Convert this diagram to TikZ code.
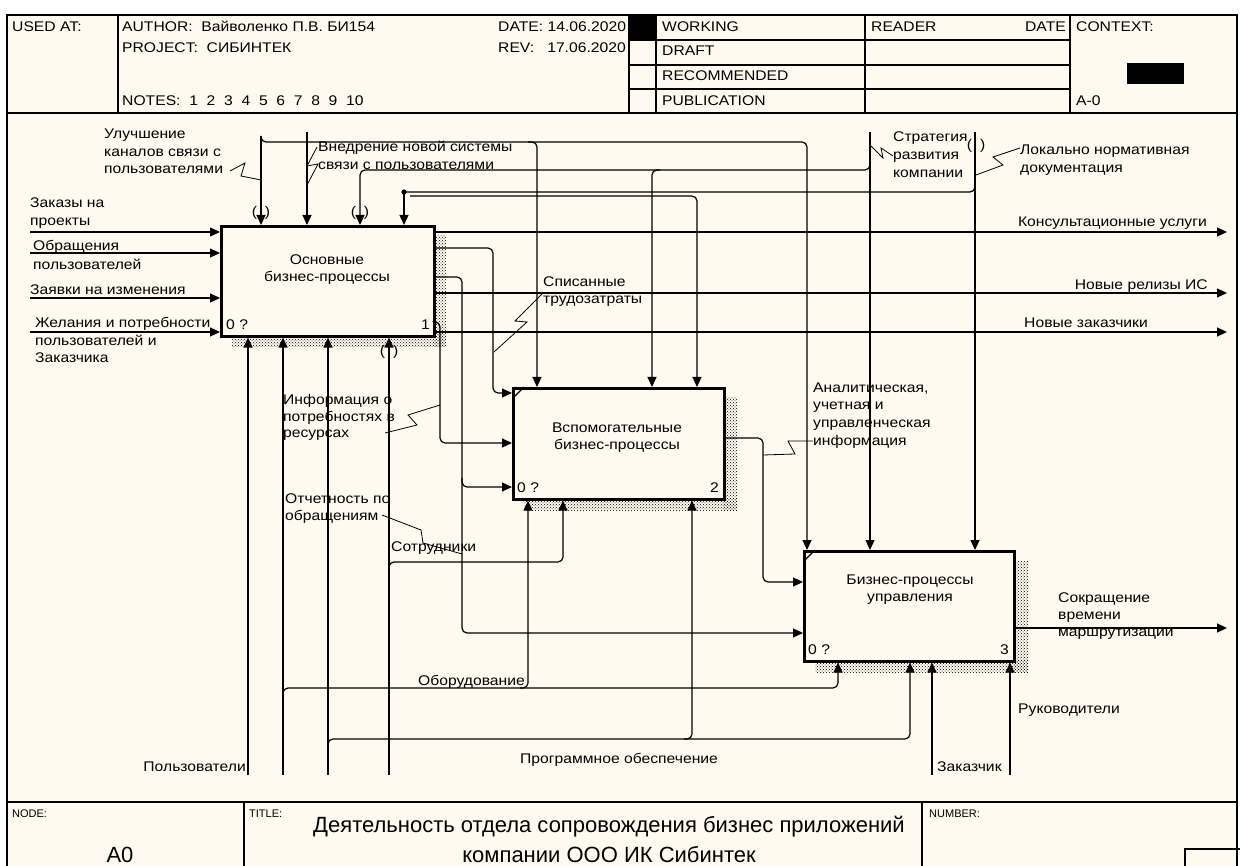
\documentclass[tikz,border=0pt]{standalone}
\usepackage{fontspec}
\setmainfont{Liberation Sans}[FakeStretch=1.12]
\newfontfamily\titlefont{Liberation Sans}
\usetikzlibrary{arrows.meta,patterns}
\definecolor{bg}{RGB}{255,250,240}
\newcommand\fs{\fontsize{14}{17}\selectfont}
\newcommand\fsmall{\titlefont\fontsize{11}{13}\selectfont}
\newcommand\fbig{\titlefont\fontsize{22}{26}\selectfont}
\newcommand\mylab[4]{\node[txt] (#1) at (#2,#3) {#4};}
\newcommand\mylabr[4]{\node[txtr] (#1) at (#2,#3) {#4};}
\tikzset{
  ln/.style={line width=1.2pt, rounded corners=5pt},
  arr/.style={ln, -{Triangle[length=10pt,width=9pt]}},
  sq/.style={line width=0.8pt},
  txt/.style={inner sep=0pt, font=\fs, anchor=base west},
  txtr/.style={inner sep=0pt, font=\fs, anchor=base east},
  box/.style={draw, line width=2.6pt, fill=bg, anchor=north west, inner sep=0pt},
  shad/.style={fill=black!35, pattern=crosshatch dots, pattern color=black},
  frm/.style={line width=1.6pt},
  tun/.style={inner sep=0pt, font=\fs},
}
\begin{document}
\begin{tikzpicture}[x=1pt,y=-1pt]
\useasboundingbox (0,0) rectangle (1240,866);
\clip (0,0) rectangle (1240,866);
\fill[white] (0,0) rectangle (1240,866);
\fill[bg] (7,15) rectangle (1237,870);

% ---------- frame and header ----------
\draw[frm] (7,870) -- (7,15) -- (1237,15) -- (1237,870);
\draw[frm] (7,113) -- (1237,113);
\draw[frm] (118,15) -- (118,113);
\draw[frm] (629,15) -- (629,113);
\draw[frm] (656,15) -- (656,113);
\draw[frm] (865,15) -- (865,113);
\draw[frm] (1070,15) -- (1070,113);
\draw[frm] (629,40) -- (1070,40);
\draw[frm] (629,65) -- (1070,65);
\draw[frm] (629,89) -- (1070,89);
\fill (629,15) rectangle (656,40);
\fill (1127,63) rectangle (1184,84);

\mylab{h1}{12}{32}{USED AT:}
\mylab{h2}{122}{32}{AUTHOR:\ \ Вайволенко П.В. БИ154}
\mylab{h3}{122}{53}{PROJECT:\ \ СИБИНТЕК}
\mylab{h4}{122}{106}{NOTES:\ \ 1\ \ 2\ \ 3\ \ 4\ \ 5\ \ 6\ \ 7\ \ 8\ \ 9\ \ 10}
\mylab{h5}{498}{32}{DATE: 14.06.2020}
\mylab{h6}{498}{53}{REV:\ \ \ 17.06.2020}
\mylab{h7}{662}{32}{WORKING}
\mylab{h8}{662}{56}{DRAFT}
\mylab{h9}{662}{81}{RECOMMENDED}
\mylab{h10}{662}{106}{PUBLICATION}
\mylab{h11}{871}{32}{READER}
\mylabr{h12}{1066}{32}{DATE}
\mylab{h13}{1076}{32}{CONTEXT:}
\mylab{h14}{1076}{106}{A-0}

% ---------- footer ----------
\draw[frm] (7,802) -- (1237,802);
\draw[frm] (244,802) -- (244,870);
\draw[frm] (922,802) -- (922,870);
\draw[frm] (1185,849) rectangle (1250,880);
\node[inner sep=0pt, font=\fsmall, anchor=base west] (f1) at (12,817) {NODE:};
\node[inner sep=0pt, font=\fsmall, anchor=base west] (f2) at (249,817) {TITLE:};
\node[inner sep=0pt, font=\fsmall, anchor=base west] (f3) at (929,817) {NUMBER:};
\node[inner sep=0pt, font=\fbig, anchor=base] (f4) at (120,862) {A0};
\node[inner sep=0pt, font=\fbig, anchor=base] (f5) at (609,832) {Деятельность отдела сопровождения бизнес приложений};
\node[inner sep=0pt, font=\fbig, anchor=base] (f6) at (609,862) {компании ООО ИК Сибинтек};

% ---------- shadows ----------
\fill[shad] (433,236) rectangle (446,347);
\fill[shad] (232,335) rectangle (446,347);
\fill[shad] (723,398) rectangle (737,510);
\fill[shad] (524,498) rectangle (737,510);
\fill[shad] (1013,561) rectangle (1028,672);
\fill[shad] (815,660) rectangle (1028,672);

% ---------- boxes ----------
\node[box, minimum width=213pt, minimum height=110pt] (b1) at (220,225) {};
\node[box, minimum width=211pt, minimum height=111pt] (b2) at (512,387) {};
\node[box, minimum width=210pt, minimum height=110pt] (b3) at (803,550) {};
\draw[line width=1.2pt] (513,398) -- (524,387);
\draw[line width=1.2pt] (804,561) -- (815,550);

\node[font=\fs, align=center, inner sep=0pt] (b1t) at (327,270) {Основные\\бизнес-процессы};
\node[font=\fs, align=center, inner sep=0pt] (b2t) at (617,438) {Вспомогательные\\бизнес-процессы};
\node[font=\fs, align=center, inner sep=0pt] (b3t) at (910,590) {Бизнес-процессы\\управления};
\mylab{n1a}{226}{330}{0 ?}
\mylabr{n1b}{430}{330}{1}
\mylab{n2a}{517}{492}{0 ?}
\mylabr{n2b}{719}{492}{2}
\mylab{n3a}{808}{654}{0 ?}
\mylabr{n3b}{1009}{654}{3}

% ---------- inputs ----------
\coordinate (in1) at (30,232);
\coordinate (in2) at (30,253);
\coordinate (in3) at (30,298);
\coordinate (in4) at (30,332);
\draw[arr] (in1) -- (in1 -| b1.west);
\draw[arr] (in2) -- (in2 -| b1.west);
\draw[arr] (in3) -- (in3 -| b1.west);
\draw[arr] (in4) -- (in4 -| b1.west);

% ---------- outputs ----------
\coordinate (o1) at (1227,232);
\coordinate (o2) at (1227,293);
\coordinate (o3) at (1227,332);
\coordinate (o4) at (1227,628);
\draw[arr] (b1.east |- o1) -- (o1);
\draw[arr] (b1.east |- o2) -- (o2);
\draw[arr] (b1.east |- o3) -- (o3);
\draw[arr] (b3.east |- o4) -- (o4);
\draw[arr] (b1.east |- 0,248) -- (493,248) -- (493,393) -- (b2.west |- 0,393);
\draw[arr] (b1.east |- 0,277) -- (462,277) -- (462,633) -- (b3.west |- 0,633);
\draw[arr] (462,478) -- (462,487) -- (b2.west |- 0,487);
\draw[arr] (b1.east |- 0,322) -- (440,322) -- (440,443) -- (b2.west |- 0,443);
\draw[arr] (b2.east |- 0,438) -- (763,438) -- (763,582) -- (b3.west |- 0,582);

% ---------- controls ----------
\coordinate (t1) at (261,136);
\coordinate (t2) at (307,132);
\coordinate (t3) at (870,132);
\coordinate (t4) at (975,132);
\draw[arr] (t1) -- (261,142) -- (807,142) -- (807,0 |- b3.north);
\draw[arr] (t1) -- (t1 |- b1.north);
\draw[arr] (528,142) -- (537,142) -- (537,0 |- b2.north);
\draw[arr] (t2) -- (t2 |- b1.north);
\draw[arr] (t3) -- (t3 |- b3.north);
\draw[arr] (870,161) -- (870,170) -- (360,170) -- (360,0 |- b1.north);
\draw[arr] (660,170) -- (652,170) -- (652,0 |- b2.north);
\draw[arr] (t4) -- (t4 |- b3.north);
\draw[ln] (975,183) -- (975,192) -- (404,192);
\draw[arr] (404,192) -- (404,0 |- b1.north);
\fill (404,192) circle (2.6);
\draw[arr] (410,196) -- (697,196) -- (697,0 |- b2.north);

% ---------- mechanisms ----------
\coordinate (m1) at (248,775);
\coordinate (m2) at (283,775);
\coordinate (m3) at (328,775);
\coordinate (m4) at (389,775);
\coordinate (m5) at (932,775);
\coordinate (m6) at (1010,775);
\draw[arr] (m1) -- (m1 |- b1.south);
\draw[arr] (m2) -- (m2 |- b1.south);
\draw[arr] (m3) -- (m3 |- b1.south);
\draw[arr] (m4) -- (m4 |- b1.south);
\draw[arr] (m5) -- (m5 |- b3.south);
\draw[arr] (m6) -- (m6 |- b3.south);
\draw[arr] (283,695) -- (283,688) -- (838,688) -- (838,0 |- b3.south);
\draw[arr] (520,688) -- (528,688) -- (528,0 |- b2.south);
\draw[arr] (328,746) -- (328,739) -- (910,739) -- (910,0 |- b3.south);
\draw[arr] (684,739) -- (692,739) -- (692,0 |- b2.south);
\draw[arr] (389,569) -- (389,562) -- (563,562) -- (563,0 |- b2.south);

% ---------- tunnels ----------
\node[tun] (p1) at (261,213) {(\hspace{8pt})};
\node[tun] (p2) at (360,213) {(\hspace{8pt})};
\node[tun] (p3) at (389,352) {(\hspace{8pt})};
\node[tun] (p4) at (976,146) {(\hspace{8pt})};

% ---------- squiggles ----------
\draw[sq] (230,171) -- (245,163) -- (241,176) -- (261,180);
\draw[sq] (317,147) -- (307,166) -- (318,164) -- (307,185);
\draw[sq] (871,146) -- (883,158) -- (881,148) -- (893,156);
\draw[sq] (1020,148) -- (993,157) -- (1003,165) -- (976,175);
\draw[sq] (543,293) -- (515,321) -- (527,322) -- (494,352);
\draw[sq] (385,433) -- (417,425) -- (408,415) -- (440,405);
\draw[sq] (382,515) -- (421,530) -- (423,543) -- (462,554);
\draw[sq] (813,441) -- (788,441) -- (795,454) -- (763,455);

% ---------- labels ----------
\mylab{l1a}{104}{139}{Улучшение}
\mylab{l1b}{104}{157}{каналов связи с}
\mylab{l1c}{104}{174}{пользователями}
\mylab{l2a}{318}{152}{Внедрение новой системы}
\mylab{l2b}{318}{170}{связи с пользователями}
\mylab{l3a}{893}{142}{Стратегия}
\mylab{l3b}{893}{160}{развития}
\mylab{l3c}{893}{178}{компании}
\mylab{l4a}{1020}{155}{Локально нормативная}
\mylab{l4b}{1020}{173}{документация}
\mylab{l5a}{30}{208}{Заказы на}
\mylab{l5b}{30}{226}{проекты}
\mylab{l6a}{33}{251}{Обращения}
\mylab{l6b}{33}{270}{пользователей}
\mylab{l7}{30}{295}{Заявки на изменения}
\mylab{l8a}{35}{328}{Желания и потребности}
\mylab{l8b}{35}{346}{пользователей и}
\mylab{l8c}{35}{363}{Заказчика}
\mylabr{l9}{1207}{227}{Консультационные услуги}
\mylabr{l10}{1208}{290}{Новые релизы ИС}
\mylabr{l11}{1148}{328}{Новые заказчики}
\mylab{l12a}{543}{287}{Списанные}
\mylab{l12b}{543}{304}{трудозатраты}
\mylab{l13a}{283}{405}{Информация о}
\mylab{l13b}{283}{422}{потребностях в}
\mylab{l13c}{283}{438}{ресурсах}
\mylab{l14a}{813}{393}{Аналитическая,}
\mylab{l14b}{813}{410}{учетная и}
\mylab{l14c}{813}{428}{управленческая}
\mylab{l14d}{813}{446}{информация}
\mylab{l15a}{285}{503}{Отчетность по}
\mylab{l15b}{285}{520}{обращениям}
\mylab{l16}{391}{551}{Сотрудники}
\mylab{l17a}{1058}{602}{Сокращение}
\mylab{l17b}{1058}{619}{времени}
\mylab{l17c}{1058}{636}{маршрутизации}
\mylabr{l18}{525}{685}{Оборудование}
\mylab{l19}{1018}{713}{Руководители}
\mylabr{l20}{246}{771}{Пользователи}
\mylab{l21}{520}{763}{Программное обеспечение}
\mylab{l22}{937}{771}{Заказчик}
\end{tikzpicture}
\end{document}
